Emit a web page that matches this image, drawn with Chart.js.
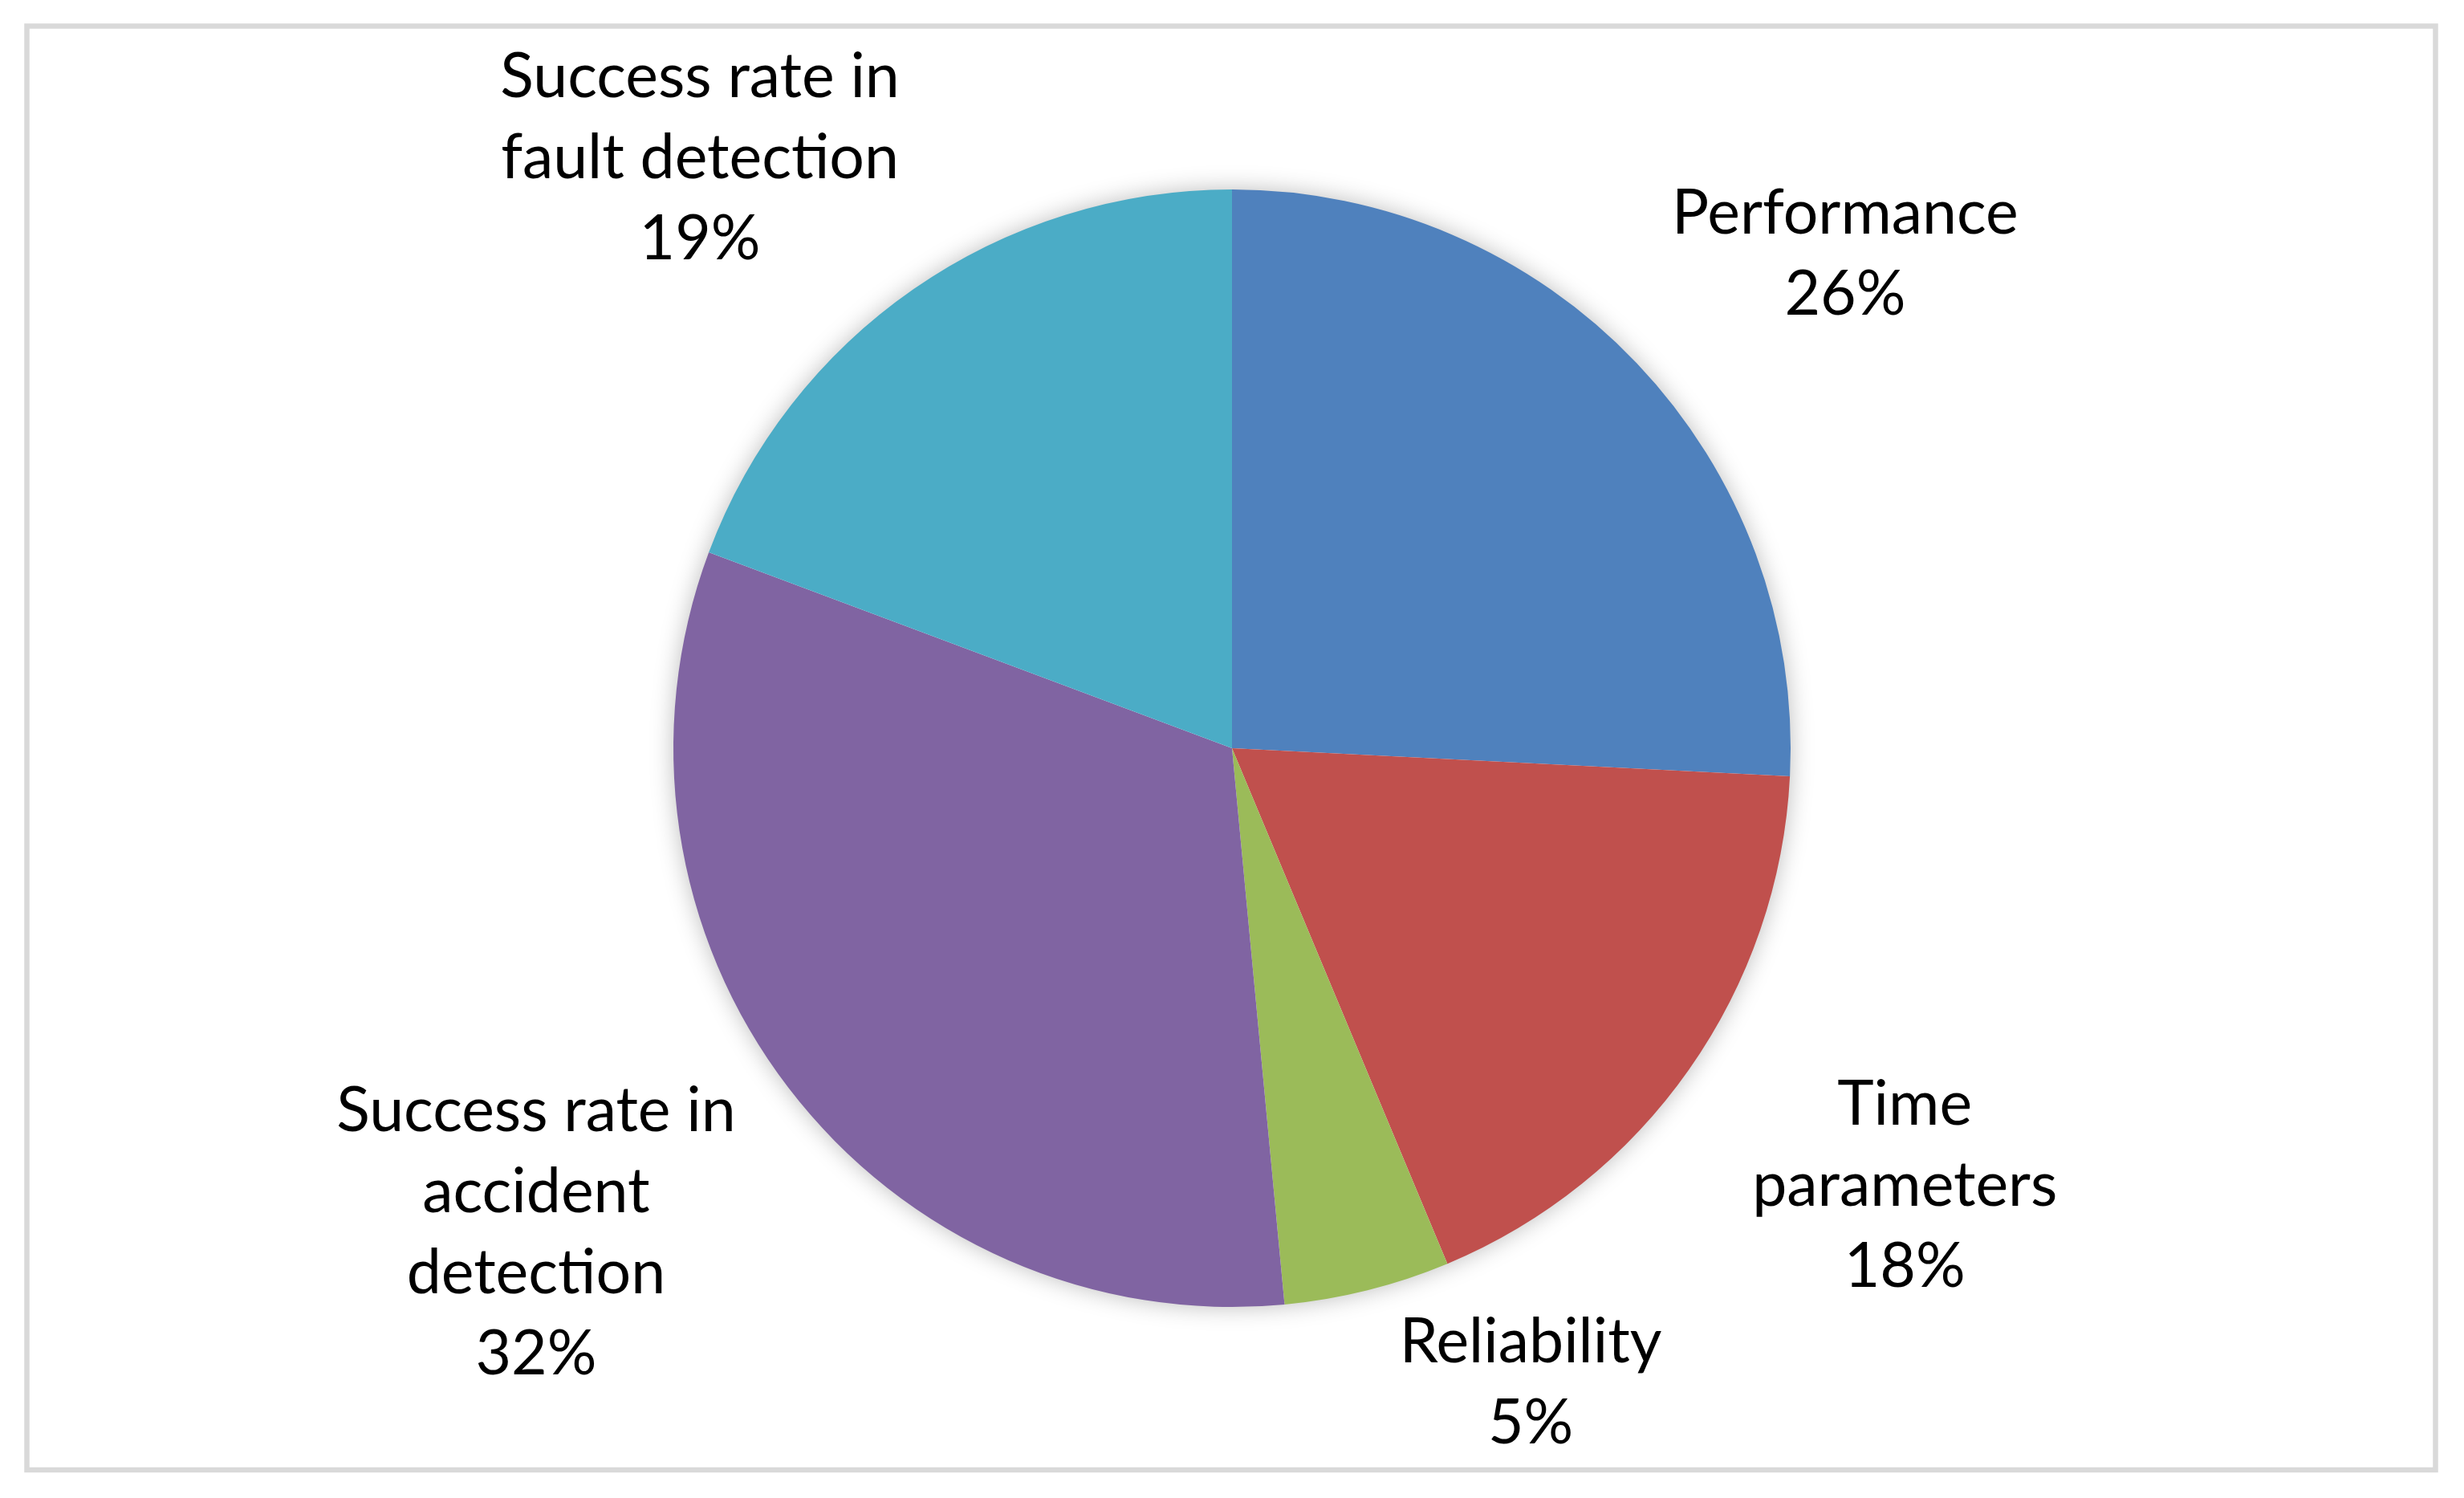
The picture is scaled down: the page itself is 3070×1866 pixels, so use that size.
<!DOCTYPE html>
<html>
<head>
<meta charset="utf-8">
<script src="https://cdn.jsdelivr.net/npm/chart.js@4"></script>
<style>
  html, body { margin: 0; padding: 0; background: #ffffff; }
  #wrap { width: 3070px; height: 1866px; }
</style>
</head>
<body>
<div id="wrap"><canvas id="c" width="3070" height="1866"></canvas></div>
<script>
// ---- data ----
const categories = ["Performance", "Time parameters", "Reliability", "Success rate in accident detection", "Success rate in fault detection"];
const categoryLines = [["Performance"], ["Time", "parameters"], ["Reliability"], ["Success rate in", "accident", "detection"], ["Success rate in", "fault detection"]];
const values = [25.8, 17.9, 4.8, 32.2, 19.3];
const colors = ["#4F81BD", "#C0504D", "#9BBB59", "#8064A2", "#4BACC6"];

const FONT_SIZE = 77;
const LINE_H = 101;
const FONT = FONT_SIZE + "px Lato";

const frame = { x: 33.5, y: 32.5, w: 3001, h: 1798.5 };

const bgPlugin = {
  id: 'bg',
  beforeDraw(chart) {
    const ctx = chart.ctx;
    ctx.save();
    ctx.fillStyle = '#ffffff';
    ctx.fillRect(0, 0, chart.width, chart.height);
    ctx.strokeStyle = '#D9D9D9';
    ctx.lineWidth = 6.5;
    ctx.strokeRect(frame.x, frame.y, frame.w, frame.h);
    ctx.restore();
  },
  beforeDatasetsDraw(chart) {
    const arc = chart.getDatasetMeta(0).data[0];
    if (!arc) return;
    const p = arc.getProps(['x', 'y', 'outerRadius'], true);
    const ctx = chart.ctx;
    ctx.save();
    ctx.shadowColor = 'rgba(0,0,0,0.28)';
    ctx.shadowBlur = 30;
    ctx.shadowOffsetX = 0;
    ctx.shadowOffsetY = 0;
    ctx.fillStyle = '#ffffff';
    ctx.beginPath();
    ctx.arc(p.x, p.y, p.outerRadius - 1, 0, Math.PI * 2);
    ctx.fill();
    ctx.restore();
  }
};

const labelPlugin = {
  id: 'outLabels',
  afterDatasetsDraw(chart) {
    const ctx = chart.ctx;
    const meta = chart.getDatasetMeta(0);
    const data = chart.data.datasets[0].data;
    const total = data.reduce((a, b) => a + b, 0);
    const anchorGap = 110, minGap = 22, kx = 1.15, ky = 0.9;
    const minX = frame.x + 10, maxX = frame.x + frame.w - 10;
    const minY = frame.y + 10, maxY = frame.y + frame.h - 10;
    ctx.save();
    ctx.font = FONT;
    ctx.fillStyle = '#000000';
    ctx.textAlign = 'center';
    ctx.textBaseline = 'alphabetic';
    meta.data.forEach((arc, i) => {
      const p = arc.getProps(['x', 'y', 'startAngle', 'endAngle', 'outerRadius'], true);
      const cx = p.x, cy = p.y, r = p.outerRadius;
      const mid = (p.startAngle + p.endAngle) / 2;
      const ux = Math.cos(mid), uy = Math.sin(mid);
      const lines = categoryLines[i].concat([Math.round(data[i] / total * 100) + '%']);
      let w = 0;
      lines.forEach(l => { w = Math.max(w, ctx.measureText(l).width); });
      const hw = w / 2, hh = lines.length * LINE_H / 2;
      let bx = cx + ux * (r + anchorGap) + ux * hw * kx;
      let by = cy + uy * (r + anchorGap) + uy * hh * ky;
      by = Math.min(Math.max(by, minY + hh), maxY - hh);
      bx = Math.min(Math.max(bx, minX + hw), maxX - hw);
      const nx = Math.min(Math.max(cx, bx - hw), bx + hw);
      const ny = Math.min(Math.max(cy, by - hh), by + hh);
      const d = Math.hypot(nx - cx, ny - cy);
      const need = r + minGap;
      if (d < need) {
        const dy = ny - cy;
        const reqX = Math.sqrt(Math.max(need * need - dy * dy, 0));
        bx = ux >= 0 ? cx + reqX + hw : cx - reqX - hw;
      }
      const top = by - hh;
      lines.forEach((l, k) => {
        const lc = top + k * LINE_H + LINE_H / 2;
        ctx.fillText(l, bx, lc + FONT_SIZE * 0.36);
      });
    });
    ctx.restore();
  }
};

new Chart(document.getElementById('c'), {
  type: 'pie',
  data: {
    labels: categories,
    datasets: [{
      data: values,
      backgroundColor: colors,
      borderWidth: 0,
      hoverOffset: 0,
      offset: 0
    }]
  },
  options: {
    responsive: false,
    maintainAspectRatio: false,
    devicePixelRatio: 1,
    animation: false,
    layout: { padding: { top: 236, bottom: 238, left: 0, right: 0 } },
    plugins: {
      legend: { display: false },
      tooltip: { enabled: false },
      title: { display: false }
    },
    events: []
  },
  plugins: [bgPlugin, labelPlugin]
});
</script>
</body>
</html>
